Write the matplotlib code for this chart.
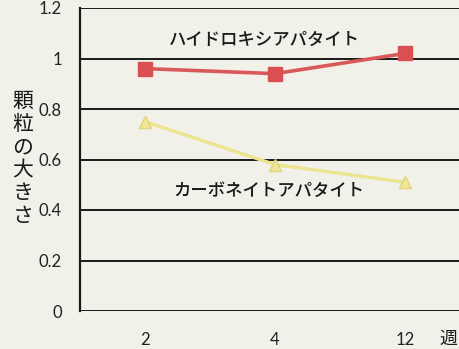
import matplotlib.pyplot as plt
import numpy as np

plt.rcParams['font.family'] = ['Lato', 'Noto Sans CJK JP', 'DejaVu Sans']

weeks = ['2', '4', '12']
hydroxy = [0.96, 0.94, 1.02]
carbonate = [0.75, 0.58, 0.51]
yticks = [0, 0.2, 0.4, 0.6, 0.8, 1, 1.2]
ytick_labels = ['0', '0.2', '0.4', '0.6', '0.8', '1', '1.2']
ylabel_chars = ['顆', '粒', 'の', '大', 'き', 'さ']

paper = '#f1f0e9'
ink = '#1a1a1a'

fig = plt.figure(figsize=(4.6, 3.49), dpi=100, facecolor=paper)
# axes runs past the right edge of the figure
ax = fig.add_axes([80 / 460, (349 - 311) / 349, 390 / 460, 303 / 349])
ax.set_facecolor(paper)

x = np.arange(len(weeks))
ax.plot(x, hydroxy, color='#d9585a', lw=2.6, marker='s', ms=9.5,
        markerfacecolor='#d94f52', markeredgecolor='#d94f52', zorder=3)
ax.plot(x, carbonate, color='#ece48e', lw=2.4, marker='^', ms=8,
        markerfacecolor='#f1e79a', markeredgecolor='#e2d57a', zorder=3)

ax.set_xlim(-0.5, 2.5)
ax.set_ylim(0, 1.2)
ax.set_yticks(yticks)
ax.set_yticklabels(ytick_labels, fontsize=12, color='#222222')
ax.set_xticks(x)
ax.set_xticklabels(weeks, fontsize=12, color='#222222')
ax.tick_params(length=0)
ax.tick_params(axis='y', pad=13)
ax.tick_params(axis='x', pad=15)
ax.yaxis.grid(True, color=ink, lw=1.4)
ax.set_axisbelow(True)
for s in ['top', 'right', 'bottom']:
    ax.spines[s].set_visible(False)
ax.spines['left'].set_color(ink)
ax.spines['left'].set_linewidth(1.6)

ax.text(0.92, 1.075, 'ハイドロキシアパタイト', ha='center', va='center',
        fontsize=12.5, family=['Noto Sans CJK JP'], weight='medium', color=ink)
ax.text(0.95, 0.475, 'カーボネイトアパタイト', ha='center', va='center',
        fontsize=12.5, family=['Noto Sans CJK JP'], weight='medium', color=ink)

# vertical label, one character per line
for i, ch in enumerate(ylabel_chars):
    fig.text(23 / 460, 1 - (101 + i * 23) / 349, ch, ha='center', va='center',
             fontsize=15, family=['Noto Sans CJK JP'], color=ink)
fig.text(448 / 460, 1 - 339 / 349, '週', ha='center', va='center',
         fontsize=13, family=['Noto Sans CJK JP'], color=ink)

fig.savefig('out.png', dpi=100, facecolor=paper)
